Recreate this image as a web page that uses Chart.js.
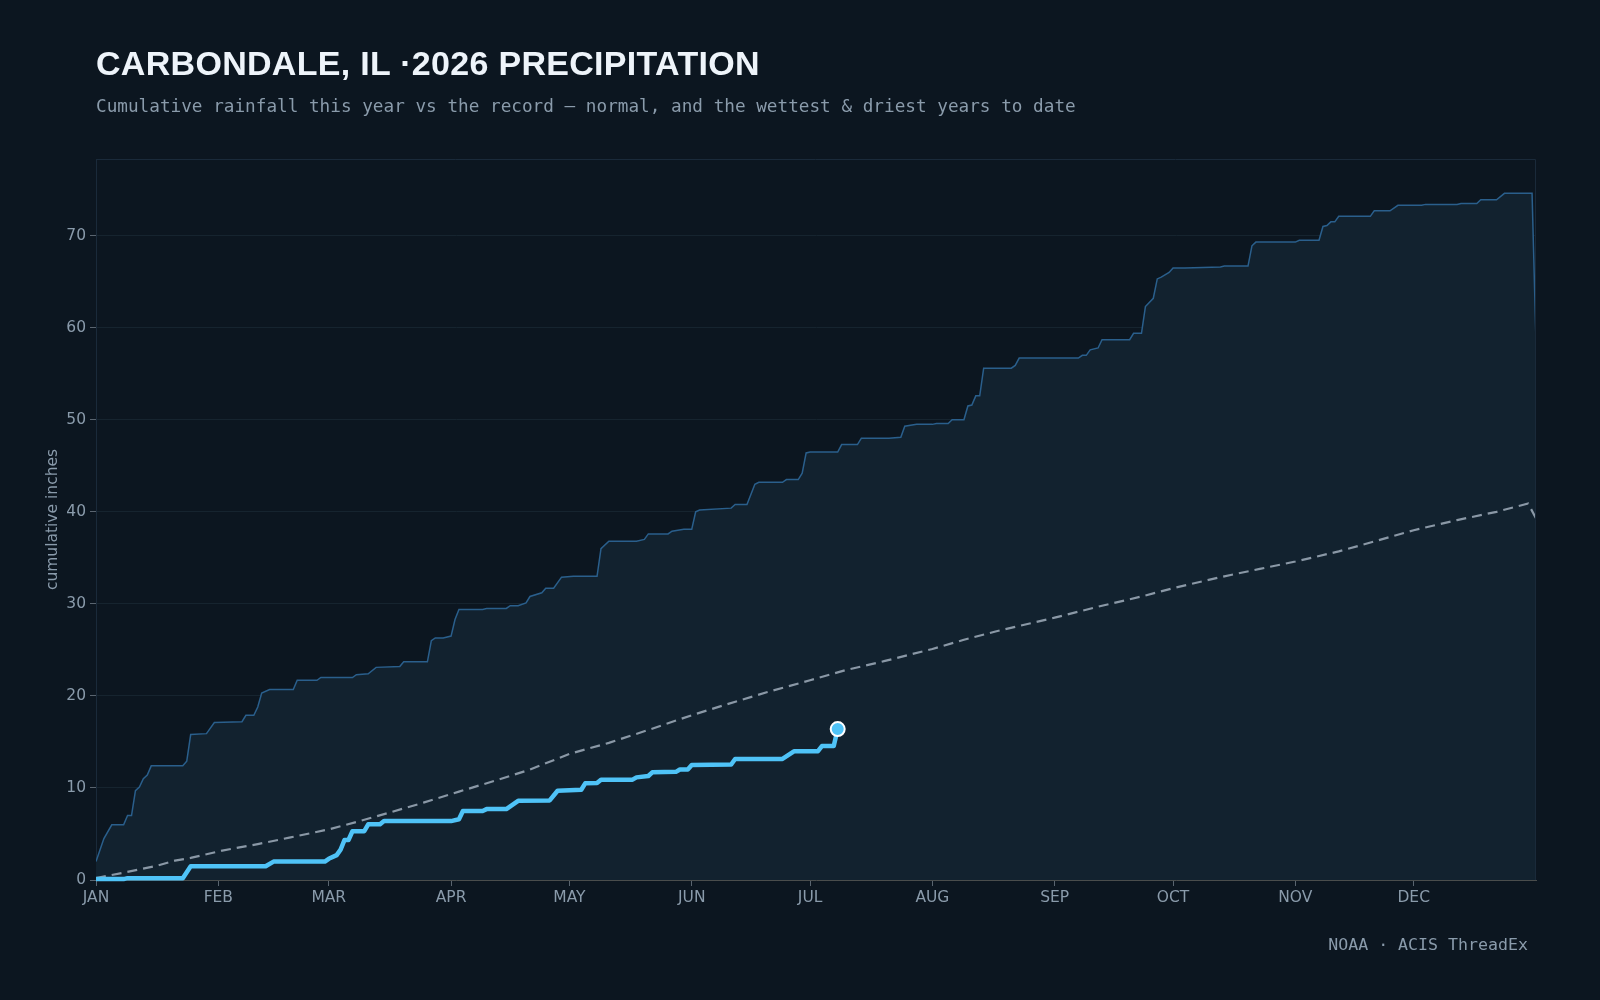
<!DOCTYPE html>
<html>
<head>
<meta charset="utf-8">
<title>Carbondale precipitation</title>
<script src="https://cdn.jsdelivr.net/npm/chart.js@4.4.1/dist/chart.umd.min.js"></script>
<style>
  html, body { margin: 0; padding: 0; background: #0c1620; }
  body { width: 1600px; height: 1000px; position: relative; overflow: hidden; }
  #chart { position: absolute; left: 0; top: 0; }
  .title {
    position: absolute; left: 96px; top: 46px; margin: 0;
    font: 700 34px/1 'Liberation Sans', sans-serif; color: #eef4fa;
    letter-spacing: 0.3px; white-space: nowrap;
  }
  .subtitle {
    position: absolute; left: 96px; top: 98px;
    font: 17.7px/1 'DejaVu Sans Mono', monospace; color: #8a9bab;
    white-space: nowrap;
  }
  .source {
    position: absolute; right: 72px; top: 937px;
    font: 16.6px/1 'DejaVu Sans Mono', monospace; color: #8a9bab;
    white-space: nowrap;
  }
</style>
</head>
<body>
<canvas id="chart" width="1600" height="1000"></canvas>
<div class="title">CARBONDALE, IL ·2026 PRECIPITATION</div>
<div class="subtitle">Cumulative rainfall this year vs the record — normal, and the wettest &amp; driest years to date</div>
<div class="source">NOAA · ACIS ThreadEx</div>

<script>
// month ticks (day of year, 0 = Jan 1)
const months = ['JAN', 'FEB', 'MAR', 'APR', 'MAY', 'JUN', 'JUL', 'AUG', 'SEP', 'OCT', 'NOV', 'DEC'];
const monthStartDay = [0, 31, 59, 90, 120, 151, 181, 212, 243, 273, 304, 334];

// wettest year on record, cumulative inches
const wetDays = [0, 2, 4, 7, 8, 9, 10, 11, 12, 13, 14, 22, 23, 24, 28, 30, 37, 38, 40, 41, 42, 44, 50, 51, 56, 57,
  65, 66, 69, 71, 77, 78, 84, 85, 86, 88, 90, 91, 92, 98, 99, 104, 105, 107, 109, 110, 113, 114, 116, 118, 121,
  127, 128, 130, 137, 139, 140, 145, 146, 149, 151, 152, 153, 161, 162, 165, 167, 168, 174, 175, 178, 179, 180,
  181, 188, 189, 193, 194, 201, 204, 205, 208, 212, 213, 216, 217, 220, 221, 222, 223, 224, 225, 232, 233, 234,
  249, 250, 251, 252, 254, 255, 262, 263, 265, 266, 268, 269, 270, 272, 273, 276, 285, 286, 292, 293, 294, 304,
  305, 310, 311, 312, 313, 314, 315, 323, 324, 328, 330, 336, 337, 345, 346, 350, 351, 355, 357, 364, 365];
const wetInches = [2.0, 4.5, 6.0, 6.0, 7.0, 7.0, 9.7, 10.1, 11.0, 11.4, 12.4, 12.4, 12.9, 15.8, 15.9, 17.1, 17.2,
  17.9, 17.9, 18.8, 20.3, 20.7, 20.7, 21.7, 21.7, 22.0, 22.0, 22.3, 22.4, 23.1, 23.2, 23.7, 23.7, 26.0, 26.3, 26.3,
  26.5, 28.3, 29.4, 29.4, 29.5, 29.5, 29.8, 29.8, 30.1, 30.8, 31.2, 31.7, 31.7, 32.9, 33.0, 33.0, 36.0, 36.8, 36.8,
  37.0, 37.6, 37.6, 37.9, 38.1, 38.1, 40.0, 40.2, 40.4, 40.8, 40.8, 43.0, 43.2, 43.2, 43.5, 43.5, 44.2, 46.4, 46.5,
  46.5, 47.3, 47.3, 48.0, 48.0, 48.1, 49.3, 49.5, 49.5, 49.6, 49.6, 50.0, 50.0, 51.5, 51.6, 52.6, 52.6, 55.6, 55.6,
  55.9, 56.7, 56.7, 57.0, 57.0, 57.6, 57.8, 58.7, 58.7, 59.4, 59.4, 62.3, 63.2, 65.3, 65.5, 66.0, 66.5, 66.5, 66.6,
  66.7, 66.7, 68.9, 69.3, 69.3, 69.5, 69.5, 71.0, 71.1, 71.5, 71.5, 72.1, 72.1, 72.7, 72.7, 73.3, 73.3, 73.4, 73.4,
  73.5, 73.5, 73.9, 73.9, 74.6, 74.6, 58.5];

// normal cumulative precipitation
const normalDays = [0, 7, 15, 20, 24, 32, 41, 49, 59, 66, 75, 83, 92, 102, 110, 120, 130, 140, 151, 160, 170, 181,
  190, 200, 212, 220, 228, 243, 255, 265, 273, 285, 295, 304, 315, 325, 334, 345, 355, 363, 365];
const normalInches = [0.2, 0.8, 1.5, 2.1, 2.4, 3.2, 3.9, 4.6, 5.5, 6.3, 7.4, 8.4, 9.6, 10.9, 12.0, 13.7, 14.9, 16.3,
  17.9, 19.1, 20.4, 21.7, 22.8, 23.8, 25.1, 26.1, 27.0, 28.5, 29.8, 30.8, 31.7, 32.9, 33.8, 34.6, 35.7, 36.9, 38.0,
  39.1, 40.0, 40.9, 39.3];

// 2026 so far
const yearDays = [0, 7, 8, 22, 24, 43, 45, 58, 59, 61, 62, 63, 64, 65, 68, 69, 72, 73, 90, 92, 93, 98, 99, 104, 105,
  107, 115, 117, 123, 124, 127, 128, 136, 137, 140, 141, 147, 148, 150, 151, 161, 162, 174, 177, 183, 184, 187, 188];
const yearInches = [0.1, 0.1, 0.2, 0.2, 1.5, 1.5, 2.0, 2.0, 2.3, 2.7, 3.3, 4.35, 4.35, 5.3, 5.3, 6.05, 6.05, 6.4, 6.4,
  6.6, 7.5, 7.5, 7.7, 7.7, 8.0, 8.6, 8.65, 9.7, 9.8, 10.5, 10.55, 10.9, 10.9, 11.15, 11.3, 11.7, 11.75, 12.0, 12.0,
  12.5, 12.55, 13.15, 13.15, 14.0, 14.0, 14.55, 14.55, 16.4];

const toPoints = (xs, ys) => xs.map((x, i) => ({ x, y: ys[i] }));

const TICK_COLOR = '#8a9bab';
const FONT = 'DejaVu Sans';

// faint frame on top and right of the plot
const plotFrame = {
  id: 'plotFrame',
  afterDatasetsDraw(chart) {
    const { ctx, chartArea } = chart;
    const { left, top, right, bottom } = chartArea;
    ctx.save();
    ctx.strokeStyle = '#1a2a3a';
    ctx.lineWidth = 1;
    ctx.beginPath();
    ctx.moveTo(left, top + 0.5);
    ctx.lineTo(right - 0.5, top + 0.5);
    ctx.lineTo(right - 0.5, bottom);
    ctx.stroke();
    ctx.restore();
  },
};

const lastIdx = yearDays.length - 1;

new Chart(document.getElementById('chart'), {
  type: 'line',
  data: {
    datasets: [
      {
        label: 'This year',
        data: toPoints(yearDays, yearInches),
        borderColor: '#4fc3f7',
        borderWidth: 4.5,
        borderJoinStyle: 'round',
        pointRadius: (c) => (c.dataIndex === lastIdx ? 7 : 0),
        pointBackgroundColor: '#4fc3f7',
        pointBorderColor: '#ffffff',
        pointBorderWidth: 2,
        clip: false,
        order: 0,
      },
      {
        label: 'Normal',
        data: toPoints(normalDays, normalInches),
        borderColor: '#8a98a6',
        borderWidth: 2.2,
        borderDash: [10, 6],
        pointRadius: 0,
        order: 1,
      },
      {
        label: 'Wettest',
        data: toPoints(wetDays, wetInches),
        borderColor: '#2a5f8c',
        borderWidth: 1.5,
        backgroundColor: '#12222f',
        fill: 'origin',
        pointRadius: 0,
        order: 2,
      },
    ],
  },
  options: {
    responsive: false,
    animation: false,
    layout: { padding: { left: 40, top: 159, right: 64, bottom: 0 } },
    elements: { line: { tension: 0 } },
    plugins: {
      legend: { display: false },
      tooltip: { enabled: false },
    },
    scales: {
      x: {
        type: 'linear',
        min: 0,
        max: 365,
        afterFit: (scale) => { scale.height = 120; },
        afterBuildTicks: (scale) => { scale.ticks = monthStartDay.map((v) => ({ value: v })); },
        ticks: {
          autoSkip: false,
          maxRotation: 0,
          padding: 3,
          color: TICK_COLOR,
          font: { family: FONT, size: 15.5 },
          callback: (v) => months[monthStartDay.indexOf(v)],
        },
        grid: { drawOnChartArea: false, tickLength: 6, tickColor: '#5a6570' },
        border: { color: '#4a4d4c' },
      },
      y: {
        min: 0,
        max: Math.max(...wetInches) * 1.05,
        afterFit: (scale) => { scale.width = 56; },
        ticks: {
          stepSize: 10,
          includeBounds: false,
          padding: 4,
          color: TICK_COLOR,
          font: { family: FONT, size: 15.5 },
        },
        grid: { color: '#16242f', tickLength: 6, tickColor: '#5a6570' },
        border: { color: '#1a2a3a' },
        title: {
          display: true,
          text: 'cumulative inches',
          color: TICK_COLOR,
          font: { family: FONT, size: 15.5 },
          padding: { top: 4, bottom: 4 },
        },
      },
    },
  },
  plugins: [plotFrame],
});
</script>
</body>
</html>
